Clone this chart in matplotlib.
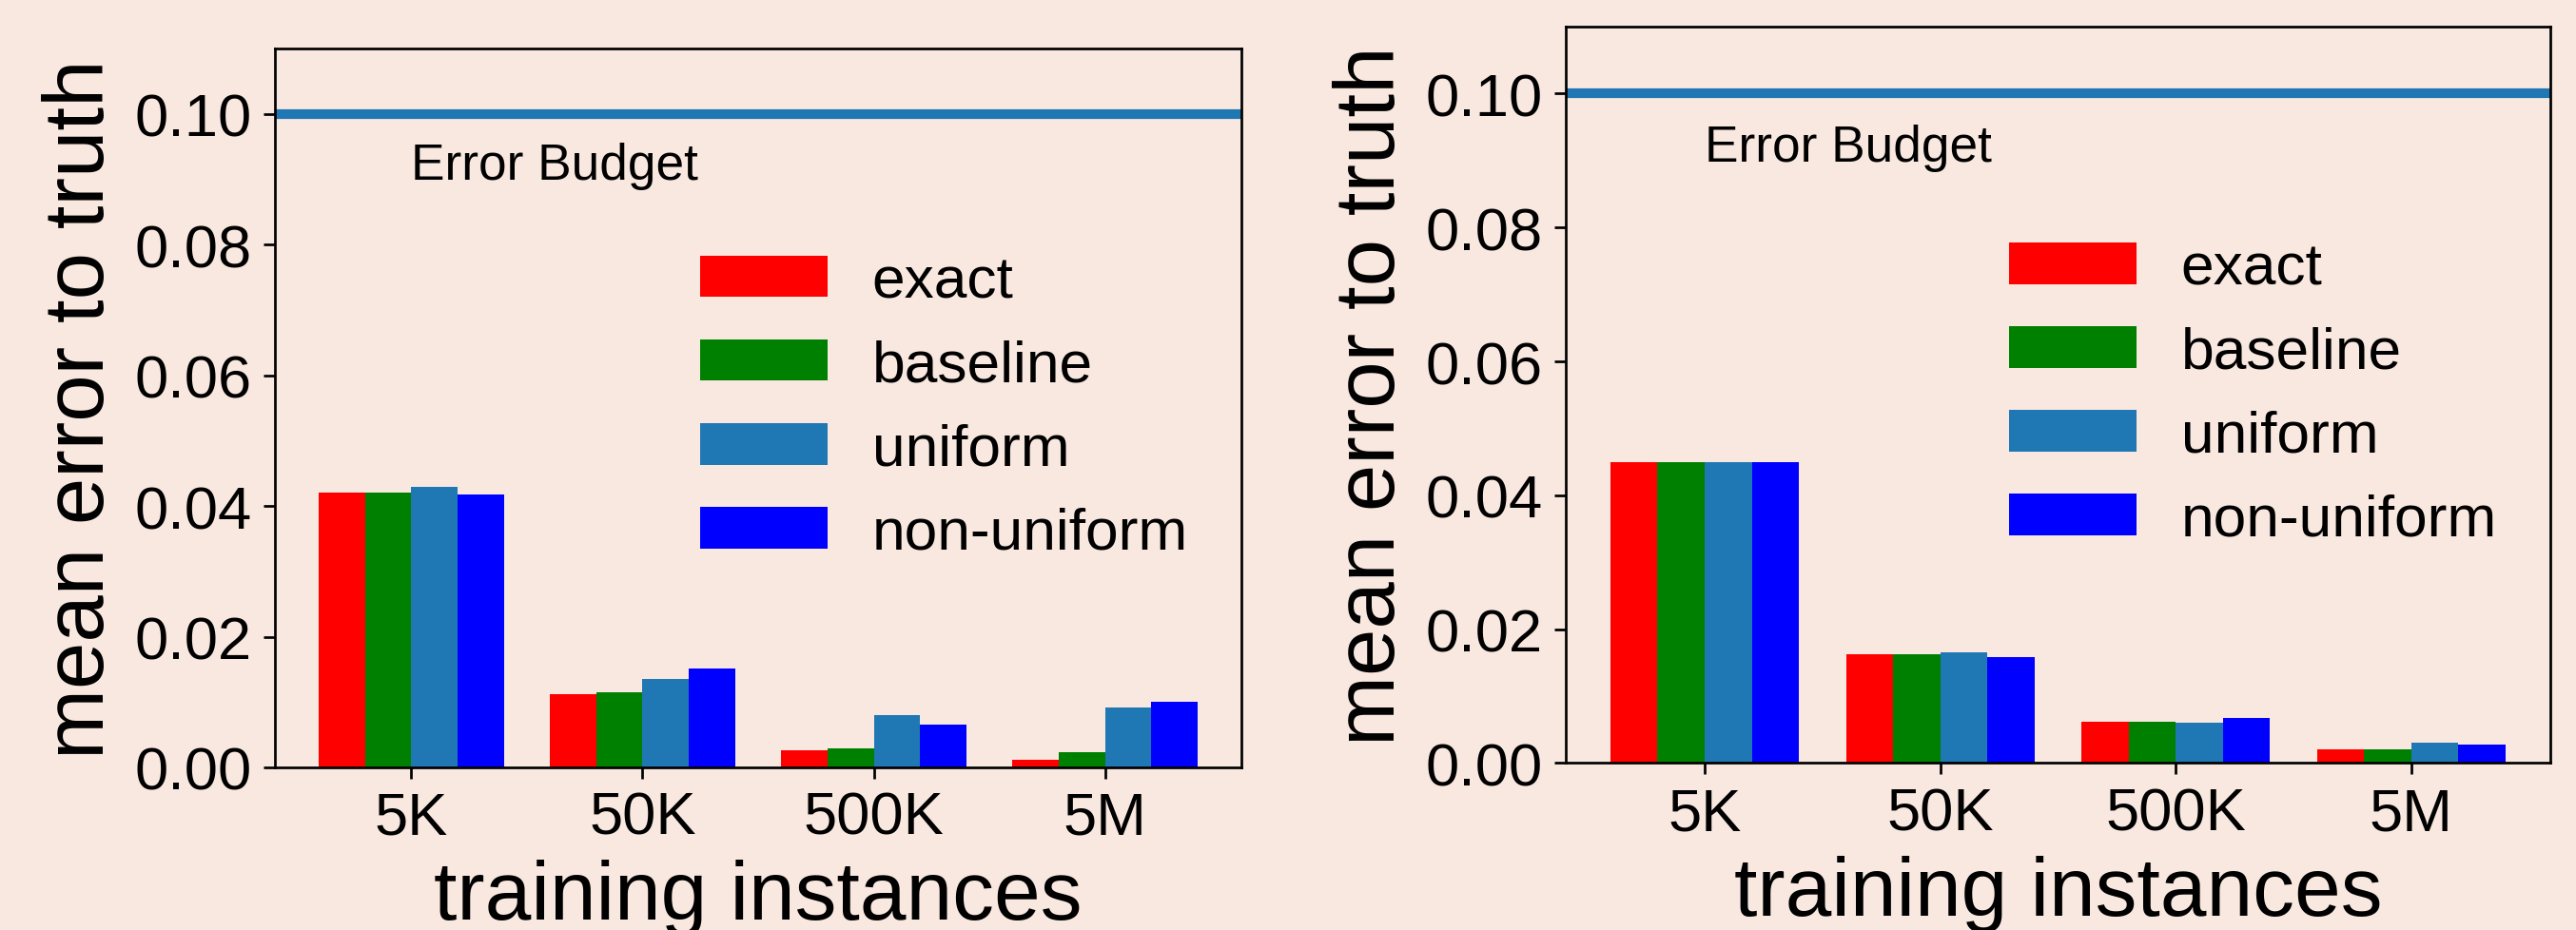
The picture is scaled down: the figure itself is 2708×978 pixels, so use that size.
import matplotlib
matplotlib.use("Agg")
import matplotlib.pyplot as plt
import numpy as np

plt.rcParams['font.family'] = ['Liberation Sans', 'DejaVu Sans']

categories = ['5K', '50K', '500K', '5M']
series_names = ['exact', 'baseline', 'uniform', 'non-uniform']
series_colors = ['#ff0000', '#008000', '#1f77b4', '#0000ff']

left_exact = [0.0420, 0.0112, 0.0026, 0.0011]
left_baseline = [0.0420, 0.0115, 0.0029, 0.0023]
left_uniform = [0.0429, 0.0135, 0.0080, 0.0091]
left_nonuniform = [0.0417, 0.0151, 0.0065, 0.0101]

right_exact = [0.0449, 0.0163, 0.0062, 0.0021]
right_baseline = [0.0449, 0.0163, 0.0062, 0.0021]
right_uniform = [0.0449, 0.0165, 0.0061, 0.0030]
right_nonuniform = [0.0449, 0.0159, 0.0067, 0.0028]

error_budget = 0.10
yticks = [0.00, 0.02, 0.04, 0.06, 0.08, 0.10]

BG = '#f9e8e0'
S = 2.45  # scale factor for line widths/paddings

fig = plt.figure(figsize=(27.08, 9.79), dpi=100, facecolor=BG)
ax_left = fig.add_axes([0.1067, 0.1747, 0.3752, 0.7722])
ax_right = fig.add_axes([0.6078, 0.1793, 0.3822, 0.7911])

def draw(ax, data):
    ax.set_facecolor(BG)
    x = np.arange(len(categories))
    w = 0.2
    for i, (vals, name, col) in enumerate(zip(data, series_names, series_colors)):
        ax.bar(x + (i - 1.5) * w, vals, w, color=col, label=name, linewidth=0)
    ax.axhline(error_budget, color='#1f77b4', linewidth=3 * S)
    ax.text(0, 0.09, 'Error Budget', fontsize=38.3)
    ax.set_ylim(0, 0.11)
    ax.set_yticks(yticks)
    ax.set_yticklabels([f'{v:.2f}' for v in yticks])
    ax.set_xticks(x)
    ax.set_xticklabels(categories)
    ax.tick_params(labelsize=45.5, length=3.5 * S, width=0.8 * S, pad=3.5 * S)
    for sp in ax.spines.values():
        sp.set_linewidth(0.8 * S)
    ax.set_xlabel('training instances', fontsize=63, labelpad=4 * S)
    ax.set_ylabel('mean error to truth', fontsize=64, labelpad=4 * S)
    ax.legend(loc='center right', frameon=False, fontsize=44.8,
              handlelength=2.15, handletextpad=0.75)

draw(ax_left, [left_exact, left_baseline, left_uniform, left_nonuniform])
draw(ax_right, [right_exact, right_baseline, right_uniform, right_nonuniform])

fig.savefig('out.png', dpi=100, facecolor=BG)
